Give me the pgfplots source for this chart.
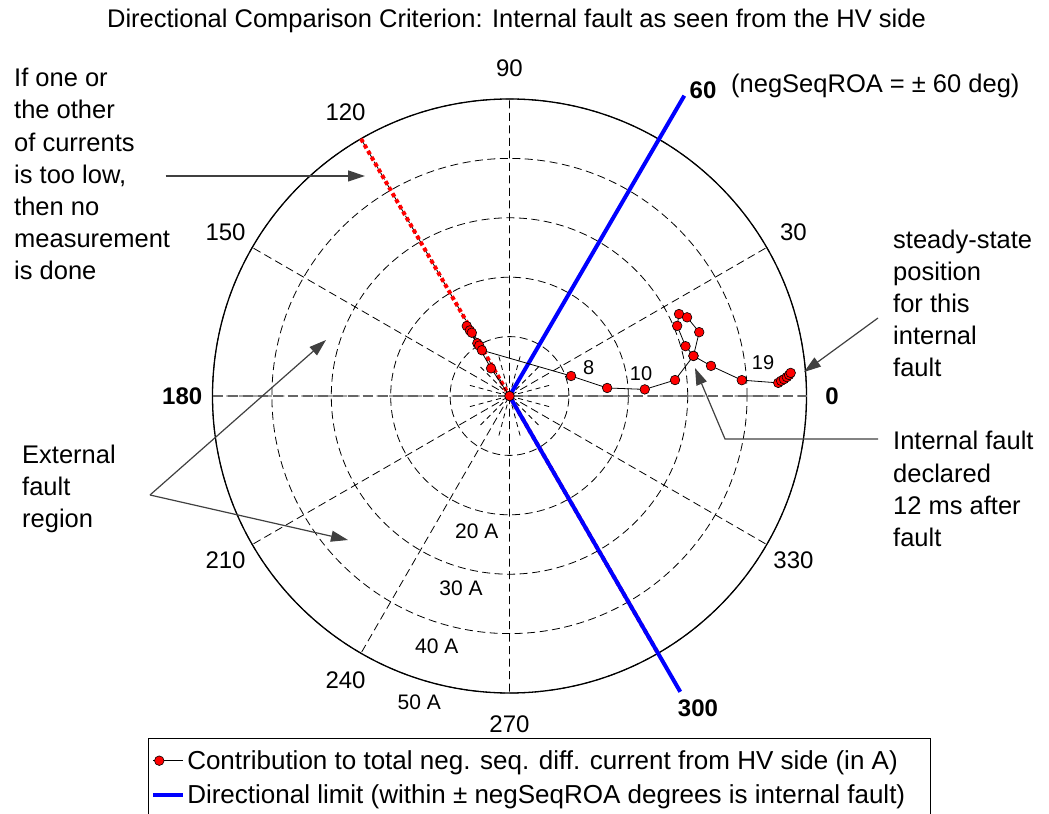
\documentclass[border=0pt]{standalone}
\usepackage{fontspec}
\setmainfont{Liberation Sans}
\usepackage{pgfplots}
\pgfplotsset{compat=1.18}
\usepgfplotslibrary{polar}
\usetikzlibrary{arrows.meta}
\newcommand{\ann}{\fontsize{25.5bp}{32bp}\selectfont}
\newcommand{\ang}{\fontsize{24bp}{28bp}\selectfont}
\newcommand{\tl}[3]{\node[anchor=base west, inner sep=0pt, font=\ann] at (#1bp,#2bp) {#3};}
\begin{document}
\begin{tikzpicture}
\path[use as bounding box] (0bp,0bp) rectangle (1049bp,814bp);
\begin{polaraxis}[
  at={(509.5bp,418bp)}, anchor=center,
  scale only axis, width=594bp, height=594bp,
  xmin=0, xmax=360, ymin=0, ymax=50,
  xtick={0,30,...,330}, xticklabels={},
  ytick={10,20,30,40,50}, yticklabels={},
  major tick length=0pt,
  xmajorgrids, ymajorgrids,
  major grid style={black, line width=0.8bp, dash pattern=on 8bp off 4.5bp},
  x axis line style={black, line width=1.3bp},
  y axis line style={draw=none},
  clip=false,
  legend style={at={(-0.109,-0.0758)}, anchor=north west, draw=black, line width=1bp,
    font=\fontsize{26bp}{30bp}\selectfont, inner xsep=3bp, inner ysep=10bp, row sep=10bp},
  legend cell align=left,
  legend image code/.code={\draw[mark repeat=2,mark phase=2,#1] plot coordinates {(0bp,0bp) (6bp,0bp) (30bp,0bp)};},
]
\addlegendimage{black, line width=0.8bp, mark=*, mark size=4.8bp, mark options={fill=red, draw=black, line width=0.6bp, solid}}
\addlegendentry{Contribution to total neg. seq. diff. current from HV side (in A)}
\addlegendimage{blue, line width=4bp}
\addlegendentry{Directional limit (within ± negSeqROA degrees is internal fault)\hspace*{20bp}}

\pgfplotsinvokeforeach{15,45,...,345}{
  \addplot[forget plot, black, line width=0.8bp, dash pattern=on 5bp off 4bp] coordinates {(#1,0) (#1,7)};
}
\addplot[forget plot, black!60, line width=1.5bp, dash pattern=on 10bp off 5bp] coordinates {(180,50) (0,50)};

\addplot[forget plot, red, line width=4bp, dash pattern=on 4bp off 3bp] coordinates {(120,50) (300,50)};
\addplot[forget plot, blue, line width=4bp] coordinates {(59.8,58.5) (0,0) (300,57.5)};

\addplot[forget plot, black, line width=0.8bp, mark=*, mark size=4.8bp,
  mark options={fill=red, draw=black, line width=0.6bp}] coordinates {
(0,0) (123.7,5.6) (121.4,13.8) (121.2,12.9) (120.8,12.4) (121.4,10.4) (121.0,9.9) (121.1,9.0)
(18.0,10.9) (4.7,16.5) (2.8,22.8) (5.5,28.0) (12.3,31.7) (15.8,30.8) (22.7,30.6)
(25.8,31.7) (23.9,32.7) (18.6,33.7) (12.3,31.7) (8.5,34.3) (3.9,39.2)
(2.8,45.3) (3.2,45.8) (3.5,46.3) (3.9,46.8) (4.3,47.2) (4.7,47.5)
};

\node[font=\ang] at (axis cs:90,55.2) {90};
\node[font=\ang] at (axis cs:120,55.2) {120};
\node[font=\ang] at (axis cs:150,55.2) {150};
\node[font=\ang\bfseries] at (axis cs:180,55.1) {180};
\node[font=\ang] at (axis cs:210,55.2) {210};
\node[font=\ang] at (axis cs:240,55.2) {240};
\node[font=\ang] at (axis cs:270,55.2) {270};
\node[font=\ang] at (axis cs:330,55.2) {330};
\node[font=\ang] at (axis cs:30,55.2) {30};
\node[font=\ang\bfseries] at (axis cs:0,54.3) {0};
\end{polaraxis}

\node[anchor=base, font=\ann] at (516.5bp,786.7bp) {Directional Comparison Criterion: Internal fault as seen from the HV side};

\node[font=\ang\bfseries] at (703bp,724bp) {60};
\node[anchor=base west, inner sep=0pt, font=\ann] at (731bp,721bp) {(negSeqROA = ± 60 deg)};
\node[font=\ang\bfseries] at (698bp,106bp) {300};

\node[font=\fontsize{21bp}{25bp}\selectfont] at (476.7bp,282.3bp) {20 A};
\node[font=\fontsize{21bp}{25bp}\selectfont] at (461bp,225.7bp) {30 A};
\node[font=\fontsize{21bp}{25bp}\selectfont] at (436.7bp,167.3bp) {40 A};
\node[font=\fontsize{21bp}{25bp}\selectfont] at (419.3bp,111.3bp) {50 A};

\node[font=\fontsize{20bp}{24bp}\selectfont] at (588.7bp,446.5bp) {8};
\node[font=\fontsize{20bp}{24bp}\selectfont] at (641bp,440bp) {10};
\node[font=\fontsize{20bp}{24bp}\selectfont] at (763bp,451bp) {19};

\tl{14}{727.3}{If one or}
\tl{14}{695.1}{the other}
\tl{14}{662.9}{of currents}
\tl{14}{630.7}{is too low,}
\tl{14}{598.5}{then no}
\tl{14}{566.3}{measurement}
\tl{14}{534.1}{is done}

\tl{22}{350}{External}
\tl{22}{318}{fault}
\tl{22}{286}{region}

\tl{893}{565.8}{steady-state}
\tl{893}{533.6}{position}
\tl{893}{501.4}{for this}
\tl{893}{469.2}{internal}
\tl{893}{437}{fault}

\tl{893}{364}{Internal fault}
\tl{893}{331.8}{declared}
\tl{893}{299.6}{12 ms after}
\tl{893}{267.4}{fault}

\tikzset{arr/.style={-{Triangle[length=17bp,width=11bp]}, line width=1.2bp, black!75}}
\draw[arr] (165.7bp,638bp) -- (365bp,638bp);
\draw[arr] (150bp,319bp) -- (326bp,474bp);
\draw[arr] (150bp,319bp) -- (348bp,274bp);
\draw[arr] (878bp,496bp) -- (804bp,442bp);
\draw[arr] (878bp,375bp) -- (725bp,375bp) -- (695bp,446bp);
\end{tikzpicture}
\end{document}
